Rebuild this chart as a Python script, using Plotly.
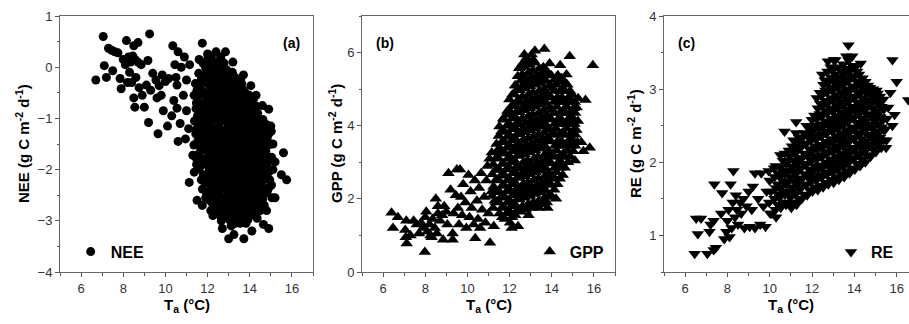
import plotly.graph_objects as go

# ---------------- data ----------------
nee_pairs = [
    (6.7,-0.25),(7.05,0.6),(7.1,0.03),(7.2,-0.2),(7.3,0.37),(7.45,0.33),(7.6,0.3),(7.75,0.28),(7.5,-0.07),
    (7.85,-0.22),(7.9,-0.42),(8.15,0.52),(8.0,0.15),(8.1,0.05),(8.25,0.2),(8.35,0.1),(8.45,0.22),(8.55,0.15),
    (8.7,0.1),(8.85,0.05),(8.5,0.42),(8.7,0.48),(8.3,-0.1),(8.4,-0.3),(8.6,-0.2),(8.2,-0.3),(8.5,-0.6),
    (8.55,-0.78),(8.75,-0.4),(8.9,-0.55),(9.0,-0.78),(9.25,0.65),(9.17,0.13),(9.2,-1.08),(9.65,-1.3),
    (9.1,-0.35),(9.4,-0.12),(9.55,-0.25),(9.7,-0.36),(9.85,-0.15),(10.0,-0.28),(10.15,-0.22),(9.3,-0.45),
    (9.6,-0.6),(9.9,-0.85),(9.8,-0.55),(10.1,-1.15),(10.35,0.42),(10.6,0.3),(10.9,0.2),(10.45,0.05),
    (10.5,-0.2),(10.55,-0.35),(10.4,-0.65),(10.55,-0.8),(10.6,-1.45),(10.3,-0.95),(10.7,-1.1),(10.85,-0.55),
    (11.0,-0.85),(11.1,-1.2),(10.95,-1.4),(10.75,0.0),(11.0,-0.25),(11.15,0.05),(11.13,-2.25),(11.5,-2.6),
    (11.75,-2.7),(11.37,-2.05),(11.3,-1.72),(11.75,0.47),(11.6,0.15),(12.25,-2.9),(12.15,-2.8),(12.65,-3.0),
    (12.7,-3.15),(13.0,-3.35),(13.25,-3.27),(13.72,-3.35),(14.1,-3.2),(14.65,-3.07),(14.9,-3.15),(14.5,-2.8),
    (14.8,-2.8),(15.2,-2.55),(15.1,-2.0),(15.5,-2.1),(15.75,-2.2),(15.6,-1.67),(14.9,-0.82),(15.0,-1.15),
    (14.05,-0.36),(13.57,-0.23),(13.2,0.1),(12.85,0.3),(12.4,0.3),(12.0,0.26),(13.55,-3.05),(14.35,-2.95),
    (15.05,-2.55),(14.95,-2.2),(15.2,-1.85),(15.1,-1.5),(14.6,-0.75),(14.3,-0.55),(13.7,-0.15),
    (11.42,-0.32),(11.36,-0.55),(11.45,-0.81),(11.38,-1.05),(11.44,-1.3),(11.35,-1.52),(11.47,-1.78),
    (11.58,-0.12),(11.63,-0.4),(11.55,-0.66),(11.62,-0.93),(11.57,-1.18),(11.64,-1.44),(11.56,-1.7),(11.61,-1.98),
    (11.78,0.08),(11.84,-0.2),(11.76,-0.47),(11.82,-0.71),(11.79,-0.98),(11.85,-1.25),(11.77,-1.51),(11.83,-1.79),
    (11.8,-2.1),(11.75,-2.38),
    (12.02,0.18),(11.97,-0.08),(12.05,-0.34),(11.99,-0.6),(12.04,-0.86),(11.96,-1.12),(12.03,-1.37),(11.98,-1.63),
    (12.06,-1.9),(12.0,-2.16),(11.95,-2.45),
    (12.18,0.22),(12.23,-0.04),(12.16,-0.3),(12.24,-0.55),(12.19,-0.82),(12.15,-1.07),(12.22,-1.33),(12.17,-1.6),
    (12.25,-1.85),(12.2,-2.12),(12.16,-2.38),(12.23,-2.66),
    (12.38,0.1),(12.43,-0.17),(12.36,-0.43),(12.42,-0.69),(12.39,-0.95),(12.45,-1.2),(12.37,-1.46),(12.41,-1.72),
    (12.44,-1.98),(12.36,-2.25),(12.42,-2.5),(12.39,-2.78),
    (12.62,0.2),(12.57,-0.06),(12.64,-0.32),(12.58,-0.58),(12.63,-0.84),(12.56,-1.1),(12.61,-1.36),(12.65,-1.62),
    (12.59,-1.88),(12.63,-2.14),(12.57,-2.4),(12.62,-2.66),(12.6,-2.9),
    (12.78,0.08),(12.83,-0.18),(12.76,-0.44),(12.82,-0.7),(12.79,-0.97),(12.84,-1.23),(12.77,-1.49),(12.81,-1.75),
    (12.85,-2.01),(12.78,-2.27),(12.82,-2.53),(12.76,-2.8),
    (12.98,-0.12),(13.04,-0.38),(12.97,-0.64),(13.03,-0.9),(12.99,-1.16),(13.05,-1.42),(12.96,-1.68),(13.02,-1.94),
    (12.98,-2.2),(13.04,-2.46),(12.97,-2.72),(13.03,-2.98),
    (13.18,-0.1),(13.23,-0.36),(13.16,-0.62),(13.22,-0.88),(13.19,-1.14),(13.24,-1.4),(13.17,-1.66),(13.21,-1.92),
    (13.25,-2.18),(13.18,-2.44),(13.22,-2.7),(13.16,-2.96),
    (13.38,-0.28),(13.43,-0.54),(13.36,-0.8),(13.42,-1.06),(13.39,-1.32),(13.44,-1.58),(13.37,-1.84),(13.41,-2.1),
    (13.45,-2.36),(13.38,-2.62),(13.42,-2.88),
    (13.62,-0.32),(13.57,-0.58),(13.64,-0.84),(13.58,-1.1),(13.63,-1.36),(13.56,-1.62),(13.61,-1.88),(13.65,-2.14),
    (13.59,-2.4),(13.63,-2.66),(13.57,-2.92),
    (13.78,-0.5),(13.83,-0.76),(13.76,-1.02),(13.82,-1.28),(13.79,-1.54),(13.84,-1.8),(13.77,-2.06),(13.81,-2.32),
    (13.85,-2.58),(13.78,-2.84),(13.82,-3.05),
    (13.98,-0.55),(14.04,-0.81),(13.97,-1.07),(14.03,-1.33),(13.99,-1.59),(14.05,-1.85),(13.96,-2.11),(14.02,-2.37),
    (13.98,-2.63),(14.04,-2.89),
    (14.18,-0.62),(14.23,-0.88),(14.16,-1.14),(14.22,-1.4),(14.19,-1.66),(14.24,-1.92),(14.17,-2.18),(14.21,-2.44),
    (14.25,-2.7),
    (14.38,-0.9),(14.43,-1.16),(14.36,-1.42),(14.42,-1.68),(14.39,-1.94),(14.44,-2.2),(14.37,-2.46),(14.41,-2.72),
    (14.62,-1.02),(14.57,-1.28),(14.64,-1.54),(14.58,-1.8),(14.63,-2.06),(14.56,-2.32),(14.61,-2.58),
    (14.78,-1.12),(14.83,-1.38),(14.76,-1.64),(14.82,-1.9),(14.79,-2.16),(14.84,-2.42),
    (15.02,-1.25),(14.97,-1.5),(15.04,-1.76),(14.98,-2.02),(15.03,-2.3),
]
nee_pairs_fill = [
    (11.5,-0.45),(11.47,-0.7),(11.52,-0.95),(11.49,-1.2),(11.53,-1.45),(11.48,-1.9),
    (11.7,-0.25),(11.68,-0.52),(11.72,-0.8),(11.69,-1.05),(11.73,-1.32),(11.67,-1.58),(11.71,-1.85),(11.7,-2.2),
    (11.9,0.0),(11.92,-0.3),(11.88,-0.55),(11.91,-0.82),(11.87,-1.1),(11.93,-1.36),(11.89,-1.62),(11.92,-1.9),
    (11.88,-2.25),(11.91,-2.55),
    (12.1,0.05),(12.08,-0.2),(12.12,-0.46),(12.09,-0.72),(12.13,-0.98),(12.07,-1.24),(12.11,-1.5),(12.1,-1.76),
    (12.08,-2.02),(12.12,-2.3),(12.09,-2.6),
    (12.3,-0.15),(12.32,-0.42),(12.28,-0.68),(12.31,-0.94),(12.27,-1.2),(12.33,-1.46),(12.29,-1.72),(12.32,-1.98),
    (12.28,-2.24),(12.31,-2.5),(12.3,-2.75),
    (12.5,0.0),(12.48,-0.3),(12.52,-0.56),(12.49,-0.82),(12.53,-1.08),(12.47,-1.34),(12.51,-1.6),(12.5,-1.86),
    (12.48,-2.12),(12.52,-2.38),(12.49,-2.64),(12.51,-2.85),
    (12.7,0.1),(12.72,-0.2),(12.68,-0.45),(12.71,-0.71),(12.67,-0.97),(12.73,-1.23),(12.69,-1.49),(12.72,-1.75),
    (12.68,-2.01),(12.71,-2.27),(12.69,-2.53),(12.72,-2.78),
    (12.9,-0.05),(12.88,-0.3),(12.92,-0.56),(12.89,-0.82),(12.93,-1.08),(12.87,-1.34),(12.91,-1.6),(12.9,-1.86),
    (12.88,-2.12),(12.92,-2.38),(12.89,-2.64),(12.91,-2.9),
    (13.1,-0.25),(13.12,-0.5),(13.08,-0.76),(13.11,-1.02),(13.07,-1.28),(13.13,-1.54),(13.09,-1.8),(13.12,-2.06),
    (13.08,-2.32),(13.11,-2.58),(13.09,-2.84),(13.12,-3.1),
    (13.3,-0.2),(13.28,-0.48),(13.32,-0.74),(13.29,-1.0),(13.33,-1.26),(13.27,-1.52),(13.31,-1.78),(13.3,-2.04),
    (13.28,-2.3),(13.32,-2.56),(13.29,-2.82),(13.31,-3.05),
    (13.5,-0.4),(13.52,-0.68),(13.48,-0.94),(13.51,-1.2),(13.47,-1.46),(13.53,-1.72),(13.49,-1.98),(13.52,-2.24),
    (13.48,-2.5),(13.51,-2.76),(13.5,-3.0),
    (13.7,-0.45),(13.68,-0.7),(13.72,-0.96),(13.69,-1.22),(13.73,-1.48),(13.67,-1.74),(13.71,-2.0),(13.7,-2.26),
    (13.68,-2.52),(13.72,-2.78),
    (13.9,-0.65),(13.92,-0.92),(13.88,-1.18),(13.91,-1.44),(13.87,-1.7),(13.93,-1.96),(13.89,-2.22),(13.92,-2.48),
    (13.88,-2.74),(13.91,-2.98),
    (14.1,-0.7),(14.08,-0.95),(14.12,-1.2),(14.09,-1.46),(14.13,-1.72),(14.07,-1.98),(14.11,-2.24),(14.1,-2.5),
    (14.08,-2.76),
    (14.3,-0.76),(14.32,-1.02),(14.28,-1.28),(14.31,-1.54),(14.27,-1.8),(14.33,-2.06),(14.29,-2.32),(14.32,-2.58),
    (14.3,-2.84),
    (14.5,-1.05),(14.48,-1.3),(14.52,-1.56),(14.49,-1.82),(14.53,-2.08),(14.47,-2.34),(14.51,-2.6),
    (14.7,-1.15),(14.72,-1.42),(14.68,-1.68),(14.71,-1.94),(14.67,-2.2),(14.73,-2.46),(14.69,-2.7),
    (14.9,-1.3),(14.88,-1.52),(14.92,-1.78),(14.89,-2.05),(14.91,-2.35),
]

gpp_pairs = [
    (6.4,1.62),(6.7,1.5),(6.47,1.2),(7.1,1.4),(7.45,1.4),(7.05,1.15),(7.08,0.95),(7.12,0.78),(7.3,1.0),
    (7.7,1.05),(7.98,0.55),(7.6,1.3),(7.8,1.35),(7.9,1.2),(8.0,1.5),(8.1,1.1),(8.2,1.3),(8.3,0.95),(8.35,1.45),
    (8.45,1.2),(8.55,1.05),(8.6,1.6),(8.05,1.65),(8.25,1.0),(8.5,2.0),(8.6,1.8),(8.7,1.4),(8.8,1.55),(8.85,0.88),
    (8.9,1.8),(9.0,1.65),(9.05,1.3),(9.1,2.7),(9.2,2.25),(9.3,0.88),(9.3,1.05),(9.35,1.6),(9.45,2.1),(9.5,2.8),
    (9.65,2.8),(9.55,1.75),(9.6,1.3),(9.7,2.05),(9.75,1.55),(9.8,2.4),(9.9,1.9),(9.95,1.2),(10.05,2.65),
    (10.1,1.5),(10.15,2.2),(10.2,1.75),(10.3,1.3),(10.37,0.92),(10.35,2.5),(10.45,1.95),(10.5,1.45),(10.55,2.3),
    (10.6,1.2),(10.65,2.7),(10.7,1.7),(10.8,2.05),(10.85,1.35),(10.9,2.5),(10.95,2.9),(11.0,1.6),(11.07,0.8),
    (11.05,3.1),(11.15,2.2),(11.25,1.25),(11.3,1.95),(11.4,3.3),(11.65,1.5),(12.1,1.2),(12.4,1.25),(12.7,5.95),
    (13.2,6.05),(13.65,6.1),(14.85,5.9),(15.95,5.65),(15.25,4.75),(15.8,3.4),(15.1,3.05),(15.6,4.7),(15.4,3.55),
    (15.5,3.3),(13.8,1.75),(14.2,2.0),(13.4,1.75),(12.9,1.55),(11.9,4.4),(11.7,4.2),(12.3,5.1),(12.5,5.6),
    (14.7,5.4),(14.4,5.65),(13.9,5.7),
    (11.22,1.75),(11.17,2.08),(11.24,2.33),(11.18,2.67),(11.23,2.94),(11.16,3.27),
    (11.52,1.6),(11.47,1.93),(11.54,2.18),(11.48,2.52),(11.53,2.79),(11.46,3.12),(11.55,3.38),(11.49,3.72),(11.52,3.98),
    (11.77,1.45),(11.72,1.78),(11.79,2.03),(11.73,2.37),(11.78,2.63),(11.71,2.97),(11.8,3.23),(11.74,3.57),
    (11.77,3.83),(11.72,4.16),
    (12.02,1.35),(11.97,1.68),(12.04,1.93),(11.98,2.27),(12.03,2.53),(11.96,2.87),(12.05,3.13),(11.99,3.47),
    (12.02,3.73),(11.97,4.07),(12.04,4.38),(11.99,4.72),
    (12.27,1.55),(12.22,1.88),(12.29,2.13),(12.23,2.47),(12.28,2.73),(12.21,3.07),(12.3,3.33),(12.24,3.67),
    (12.27,3.93),(12.22,4.27),(12.29,4.53),(12.23,4.87),(12.26,5.1),
    (12.52,1.65),(12.47,1.98),(12.54,2.23),(12.48,2.57),(12.53,2.83),(12.46,3.17),(12.55,3.43),(12.49,3.77),
    (12.52,4.03),(12.47,4.37),(12.54,4.63),(12.48,4.97),(12.53,5.23),(12.46,5.57),
    (12.77,1.7),(12.72,2.03),(12.79,2.28),(12.73,2.62),(12.78,2.88),(12.71,3.22),(12.8,3.48),(12.74,3.82),
    (12.77,4.08),(12.72,4.42),(12.79,4.68),(12.73,5.02),(12.78,5.28),(12.71,5.62),(12.8,5.85),
    (13.02,1.75),(12.97,2.08),(13.04,2.33),(12.98,2.67),(13.03,2.93),(12.96,3.27),(13.05,3.53),(12.99,3.87),
    (13.02,4.13),(12.97,4.47),(13.04,4.73),(12.98,5.07),(13.03,5.33),(12.96,5.67),(13.05,5.95),
    (13.27,1.8),(13.22,2.13),(13.29,2.38),(13.23,2.72),(13.28,2.98),(13.21,3.32),(13.3,3.58),(13.24,3.92),
    (13.27,4.18),(13.22,4.52),(13.29,4.78),(13.23,5.12),(13.28,5.38),(13.21,5.72),
    (13.52,1.85),(13.47,2.18),(13.54,2.43),(13.48,2.77),(13.53,3.03),(13.46,3.37),(13.55,3.63),(13.49,3.97),
    (13.52,4.23),(13.47,4.57),(13.54,4.83),(13.48,5.17),(13.53,5.43),
    (13.77,1.9),(13.72,2.23),(13.79,2.48),(13.73,2.82),(13.78,3.08),(13.71,3.42),(13.8,3.68),(13.74,4.02),
    (13.77,4.28),(13.72,4.62),(13.79,4.88),(13.73,5.22),(13.78,5.48),
    (14.02,2.05),(13.97,2.38),(14.04,2.63),(13.98,2.97),(14.03,3.23),(13.96,3.57),(14.05,3.83),(13.99,4.17),
    (14.02,4.43),(13.97,4.77),(14.04,5.03),(13.98,5.37),
    (14.27,2.4),(14.22,2.73),(14.29,2.98),(14.23,3.32),(14.28,3.58),(14.21,3.92),(14.3,4.18),(14.24,4.52),
    (14.27,4.78),(14.22,5.12),(14.29,5.38),
    (14.52,2.65),(14.47,2.98),(14.54,3.23),(14.48,3.57),(14.53,3.83),(14.46,4.17),(14.55,4.43),(14.49,4.77),
    (14.52,5.03),(14.47,5.3),
    (14.77,3.0),(14.72,3.33),(14.79,3.58),(14.73,3.92),(14.78,4.18),(14.71,4.52),(14.8,4.78),(14.74,5.12),
    (15.02,3.3),(14.97,3.63),(15.04,3.88),(14.98,4.22),(15.03,4.48),(14.96,4.85),
    (15.22,3.55),(15.17,3.88),(15.24,4.13),(15.18,4.5),
]
gpp_pairs_fill = [
    (11.35,1.9),(11.37,2.2),(11.33,2.5),(11.36,2.8),(11.34,3.1),(11.38,3.5),
    (11.62,1.75),(11.6,2.05),(11.64,2.35),(11.61,2.65),(11.65,2.95),(11.59,3.25),(11.63,3.55),(11.62,3.85),
    (11.88,1.6),(11.9,1.9),(11.86,2.2),(11.89,2.5),(11.85,2.8),(11.91,3.1),(11.87,3.4),(11.9,3.7),(11.88,4.0),(11.89,4.3),
    (12.12,1.5),(12.1,1.8),(12.14,2.1),(12.11,2.4),(12.15,2.7),(12.09,3.0),(12.13,3.3),(12.12,3.6),(12.1,3.9),
    (12.14,4.2),(12.11,4.55),(12.13,4.85),
    (12.38,1.7),(12.4,2.0),(12.36,2.3),(12.39,2.6),(12.35,2.9),(12.41,3.2),(12.37,3.5),(12.4,3.8),(12.38,4.1),
    (12.36,4.4),(12.4,4.7),(12.37,5.0),(12.39,5.35),
    (12.62,1.8),(12.6,2.1),(12.64,2.4),(12.61,2.7),(12.65,3.0),(12.59,3.3),(12.63,3.6),(12.62,3.9),(12.6,4.2),
    (12.64,4.5),(12.61,4.8),(12.63,5.1),(12.6,5.4),(12.62,5.7),
    (12.88,1.85),(12.9,2.15),(12.86,2.45),(12.89,2.75),(12.85,3.05),(12.91,3.35),(12.87,3.65),(12.9,3.95),
    (12.88,4.25),(12.86,4.55),(12.9,4.85),(12.87,5.15),(12.89,5.45),(12.88,5.75),
    (13.12,1.9),(13.1,2.2),(13.14,2.5),(13.11,2.8),(13.15,3.1),(13.09,3.4),(13.13,3.7),(13.12,4.0),(13.1,4.3),
    (13.14,4.6),(13.11,4.9),(13.13,5.2),(13.1,5.5),(13.12,5.8),
    (13.38,1.95),(13.4,2.25),(13.36,2.55),(13.39,2.85),(13.35,3.15),(13.41,3.45),(13.37,3.75),(13.4,4.05),
    (13.38,4.35),(13.36,4.65),(13.4,4.95),(13.37,5.25),(13.39,5.55),
    (13.62,2.0),(13.6,2.3),(13.64,2.6),(13.61,2.9),(13.65,3.2),(13.59,3.5),(13.63,3.8),(13.62,4.1),(13.6,4.4),
    (13.64,4.7),(13.61,5.0),(13.63,5.3),(13.6,5.6),
    (13.88,2.1),(13.9,2.4),(13.86,2.7),(13.89,3.0),(13.85,3.3),(13.91,3.6),(13.87,3.9),(13.9,4.2),(13.88,4.5),
    (13.86,4.8),(13.9,5.1),(13.87,5.4),
    (14.12,2.25),(14.1,2.55),(14.14,2.85),(14.11,3.15),(14.15,3.45),(14.09,3.75),(14.13,4.05),(14.12,4.35),
    (14.1,4.65),(14.14,4.95),(14.11,5.25),
    (14.38,2.55),(14.4,2.85),(14.36,3.15),(14.39,3.45),(14.35,3.75),(14.41,4.05),(14.37,4.35),(14.4,4.65),
    (14.38,4.95),(14.36,5.25),
    (14.62,2.85),(14.6,3.15),(14.64,3.45),(14.61,3.75),(14.65,4.05),(14.59,4.35),(14.63,4.65),(14.62,4.95),(14.6,5.2),
    (14.88,3.15),(14.9,3.45),(14.86,3.75),(14.89,4.05),(14.85,4.35),(14.91,4.65),(14.87,4.95),
    (15.1,3.45),(15.12,3.75),(15.08,4.05),(15.11,4.35),(15.09,4.65),
]

re_pairs = [
    (6.52,1.23),(6.75,1.23),(6.6,1.02),(6.45,0.75),(7.05,0.75),(7.35,0.8),(7.45,0.83),(7.2,1.15),(7.35,1.2),
    (7.15,1.05),(7.38,1.7),(7.75,1.58),(8.15,1.7),(8.28,1.88),(7.7,1.3),(7.85,0.95),(7.95,1.05),(8.0,1.2),
    (8.05,1.35),(8.1,0.98),(8.2,1.1),(8.25,1.45),(8.35,1.25),(8.4,1.55),(8.45,1.35),(8.5,1.15),(8.6,1.45),
    (8.65,1.3),(8.75,1.5),(8.8,1.1),(8.9,1.4),(9.0,1.6),(9.05,1.12),(9.15,1.35),(9.2,1.67),(9.3,1.85),(9.3,1.1),
    (9.45,1.5),(9.55,1.15),(9.6,1.85),(9.7,1.4),(9.8,1.12),(9.85,1.6),(9.95,1.88),(10.1,1.3),(10.2,1.92),
    (10.3,1.25),(10.7,2.42),(11.25,2.55),(10.5,2.1),(15.8,3.4),(16.0,3.1),(16.55,2.85),(15.8,2.5),(15.9,2.65),
    (15.5,2.2),(15.7,2.95),(15.6,2.75),(13.72,3.6),(13.9,3.45),(14.3,3.35),(12.75,3.38),(13.1,3.4),(12.95,3.15),
    (10.02,1.3),(9.97,1.45),(10.05,1.6),(9.99,1.75),
    (10.27,1.35),(10.22,1.5),(10.29,1.65),(10.23,1.8),(10.28,1.95),
    (10.52,1.38),(10.47,1.52),(10.54,1.66),(10.48,1.8),(10.53,1.94),
    (10.77,1.42),(10.72,1.56),(10.79,1.7),(10.73,1.84),(10.78,1.98),(10.71,2.12),
    (11.02,1.38),(10.97,1.52),(11.04,1.66),(10.98,1.8),(11.03,1.94),(10.96,2.08),(11.05,2.22),
    (11.27,1.42),(11.22,1.56),(11.29,1.7),(11.23,1.84),(11.28,1.98),(11.21,2.12),(11.3,2.26),(11.24,2.4),
    (11.52,1.5),(11.47,1.64),(11.54,1.78),(11.48,1.92),(11.53,2.06),(11.46,2.2),(11.55,2.34),
    (11.77,1.55),(11.72,1.69),(11.79,1.83),(11.73,1.97),(11.78,2.11),(11.71,2.25),(11.8,2.39),(11.74,2.5),
    (12.02,1.6),(11.97,1.74),(12.04,1.88),(11.98,2.02),(12.03,2.16),(11.96,2.3),(12.05,2.44),(11.99,2.58),
    (12.27,1.62),(12.22,1.76),(12.29,1.9),(12.23,2.04),(12.28,2.18),(12.21,2.32),(12.3,2.46),(12.24,2.6),
    (12.27,2.74),(12.22,2.88),
    (12.52,1.66),(12.47,1.8),(12.54,1.94),(12.48,2.08),(12.53,2.22),(12.46,2.36),(12.55,2.5),(12.49,2.64),
    (12.52,2.78),(12.47,2.92),(12.54,3.06),(12.48,3.2),
    (12.77,1.7),(12.72,1.84),(12.79,1.98),(12.73,2.12),(12.78,2.26),(12.71,2.4),(12.8,2.54),(12.74,2.68),
    (12.77,2.82),(12.72,2.96),(12.79,3.1),(12.73,3.24),
    (13.02,1.72),(12.97,1.86),(13.04,2.0),(12.98,2.14),(13.03,2.28),(12.96,2.42),(13.05,2.56),(12.99,2.7),
    (13.02,2.84),(12.97,2.98),(13.04,3.12),(12.98,3.26),(13.03,3.4),
    (13.27,1.76),(13.22,1.9),(13.29,2.04),(13.23,2.18),(13.28,2.32),(13.21,2.46),(13.3,2.6),(13.24,2.74),
    (13.27,2.88),(13.22,3.02),(13.29,3.16),(13.23,3.3),
    (13.52,1.8),(13.47,1.94),(13.54,2.08),(13.48,2.22),(13.53,2.36),(13.46,2.5),(13.55,2.64),(13.49,2.78),
    (13.52,2.92),(13.47,3.06),(13.54,3.2),(13.48,3.34),
    (13.77,1.85),(13.72,1.99),(13.79,2.13),(13.73,2.27),(13.78,2.41),(13.71,2.55),(13.8,2.69),(13.74,2.83),
    (13.77,2.97),(13.72,3.11),(13.79,3.25),(13.73,3.39),
    (14.02,1.9),(13.97,2.04),(14.04,2.18),(13.98,2.32),(14.03,2.46),(13.96,2.6),(14.05,2.74),(13.99,2.88),
    (14.02,3.02),(13.97,3.16),(14.04,3.3),
    (14.27,1.95),(14.22,2.09),(14.29,2.23),(14.23,2.37),(14.28,2.51),(14.21,2.65),(14.3,2.79),(14.24,2.93),
    (14.27,3.07),(14.22,3.2),
    (14.52,2.0),(14.47,2.14),(14.54,2.28),(14.48,2.42),(14.53,2.56),(14.46,2.7),(14.55,2.84),(14.49,2.98),(14.52,3.1),
    (14.77,2.08),(14.72,2.22),(14.79,2.36),(14.73,2.5),(14.78,2.64),(14.71,2.78),(14.8,2.92),(14.74,3.02),
    (15.02,2.14),(14.97,2.28),(15.04,2.42),(14.98,2.56),(15.03,2.7),(14.96,2.84),(15.05,2.98),
    (15.27,2.2),(15.22,2.34),(15.29,2.48),(15.23,2.62),(15.28,2.76),(15.21,2.9),
    (15.52,2.3),(15.47,2.45),(15.54,2.6),
]
re_pairs_fill = [
    (10.38,1.42),(10.4,1.56),(10.36,1.7),(10.39,1.85),
    (10.62,1.45),(10.6,1.6),(10.64,1.74),(10.61,1.88),(10.63,2.02),
    (10.88,1.45),(10.9,1.6),(10.86,1.74),(10.89,1.88),(10.87,2.02),(10.9,2.16),
    (11.12,1.45),(11.1,1.6),(11.14,1.74),(11.11,1.88),(11.13,2.02),(11.1,2.16),(11.12,2.3),
    (11.38,1.5),(11.4,1.64),(11.36,1.78),(11.39,1.92),(11.37,2.06),(11.4,2.2),(11.38,2.34),
    (11.62,1.56),(11.6,1.7),(11.64,1.84),(11.61,1.98),(11.63,2.12),(11.6,2.26),(11.62,2.4),
    (11.88,1.62),(11.9,1.76),(11.86,1.9),(11.89,2.04),(11.87,2.18),(11.9,2.32),(11.88,2.46),
    (12.12,1.66),(12.1,1.8),(12.14,1.94),(12.11,2.08),(12.13,2.22),(12.1,2.36),(12.12,2.5),(12.11,2.64),
    (12.38,1.68),(12.4,1.82),(12.36,1.96),(12.39,2.1),(12.37,2.24),(12.4,2.38),(12.38,2.52),(12.36,2.66),
    (12.39,2.8),(12.37,2.95),
    (12.62,1.72),(12.6,1.86),(12.64,2.0),(12.61,2.14),(12.63,2.28),(12.6,2.42),(12.62,2.56),(12.64,2.7),
    (12.61,2.84),(12.63,2.98),(12.6,3.12),
    (12.88,1.76),(12.9,1.9),(12.86,2.04),(12.89,2.18),(12.87,2.32),(12.9,2.46),(12.88,2.6),(12.86,2.74),
    (12.89,2.88),(12.87,3.02),(12.9,3.16),(12.88,3.3),
    (13.12,1.8),(13.1,1.94),(13.14,2.08),(13.11,2.22),(13.13,2.36),(13.1,2.5),(13.12,2.64),(13.14,2.78),
    (13.11,2.92),(13.13,3.06),(13.1,3.2),
    (13.38,1.84),(13.4,1.98),(13.36,2.12),(13.39,2.26),(13.37,2.4),(13.4,2.54),(13.38,2.68),(13.36,2.82),
    (13.39,2.96),(13.37,3.1),(13.4,3.24),
    (13.62,1.88),(13.6,2.02),(13.64,2.16),(13.61,2.3),(13.63,2.44),(13.6,2.58),(13.62,2.72),(13.64,2.86),
    (13.61,3.0),(13.63,3.14),(13.6,3.28),(13.62,3.45),
    (13.88,1.92),(13.9,2.06),(13.86,2.2),(13.89,2.34),(13.87,2.48),(13.9,2.62),(13.88,2.76),(13.86,2.9),
    (13.89,3.04),(13.87,3.18),(13.9,3.32),
    (14.12,1.98),(14.1,2.12),(14.14,2.26),(14.11,2.4),(14.13,2.54),(14.1,2.68),(14.12,2.82),(14.14,2.96),
    (14.11,3.1),(14.13,3.24),
    (14.38,2.04),(14.4,2.18),(14.36,2.32),(14.39,2.46),(14.37,2.6),(14.4,2.74),(14.38,2.88),(14.36,3.02),(14.39,3.15),
    (14.62,2.1),(14.6,2.24),(14.64,2.38),(14.61,2.52),(14.63,2.66),(14.6,2.8),(14.62,2.94),(14.64,3.05),
    (14.88,2.18),(14.9,2.32),(14.86,2.46),(14.89,2.6),(14.87,2.74),(14.9,2.88),(14.88,3.0),
    (15.12,2.24),(15.1,2.38),(15.14,2.52),(15.11,2.66),(15.13,2.8),(15.1,2.94),
    (15.38,2.3),(15.4,2.44),(15.36,2.58),(15.39,2.72),(15.37,2.86),
]

all_nee = nee_pairs + nee_pairs_fill
all_gpp = gpp_pairs + gpp_pairs_fill
all_re = re_pairs + re_pairs_fill
ta_nee = [p[0] for p in all_nee]
nee = [p[1] for p in all_nee]
ta_gpp = [p[0] for p in all_gpp]
gpp = [p[1] for p in all_gpp]
ta_re = [p[0] for p in all_re]
re_vals = [p[1] for p in all_re]

x_ticks = [6, 8, 10, 12, 14, 16]
ytitles = ["NEE (g C m<sup>-2</sup> d<sup>-1</sup>)",
           "GPP (g C m<sup>-2</sup> d<sup>-1</sup>)",
           "RE (g C m<sup>-2</sup> d<sup>-1</sup>)"]

# ---------------- figure ----------------
FONT = "Liberation Sans, Arial, sans-serif"
W, H = 909, 324
L, R, T, B = 60, 0, 16, 52
pw, ph = W - L - R, H - T - B

def px2x(px):
    return (px - L) / pw

def py2y(py):
    return (H - B - py) / ph

fig = go.Figure()
fig.add_trace(go.Scatter(x=ta_nee, y=nee, mode="markers", name="NEE",
                         marker=dict(symbol="circle", size=9, color="black"),
                         xaxis="x", yaxis="y", legend="legend"))
fig.add_trace(go.Scatter(x=ta_gpp, y=gpp, mode="markers", name="GPP",
                         marker=dict(symbol="triangle-up", size=11, color="black"),
                         xaxis="x2", yaxis="y2", legend="legend2"))
fig.add_trace(go.Scatter(x=ta_re, y=re_vals, mode="markers", name="RE",
                         marker=dict(symbol="triangle-down", size=11, color="black"),
                         xaxis="x3", yaxis="y3", legend="legend3"))

domains = [(px2x(60), px2x(313)), (px2x(362), px2x(615)), (px2x(664), 1.0)]
xranges = [[5, 17], [5, 17], [5, 5 + (909 - 664) / 21.15]]
yranges = [[-4, 1], [0, 7], [0.5, 4]]
ydticks = [1, 2, 1]
yminor = [0.5, 1, 0.5]

axis_common = dict(showgrid=False, zeroline=False, showline=True, linecolor="#666666", linewidth=1,
                   ticks="outside", ticklen=4, tickwidth=1, tickcolor="#555555",
                   tickfont=dict(family=FONT, size=13, color="#333333"))
layout = dict(width=W, height=H, margin=dict(l=L, r=R, t=T, b=B, pad=0, autoexpand=False),
              plot_bgcolor="white", paper_bgcolor="white", showlegend=True,
              font=dict(family=FONT))
for i in range(3):
    sx = "" if i == 0 else str(i + 1)
    layout["xaxis" + sx] = dict(axis_common, domain=list(domains[i]), range=xranges[i],
                                tickvals=x_ticks, mirror=True, anchor="y" + sx,
                                minor=dict(dtick=1, tick0=5, ticks="outside", ticklen=2.5,
                                           tickcolor="#555555", showgrid=False))
    layout["yaxis" + sx] = dict(axis_common, domain=[0, 1], range=yranges[i], dtick=ydticks[i],
                                mirror=(i < 2), anchor="x" + sx,
                                minor=dict(dtick=yminor[i], ticks="outside", ticklen=2.5,
                                           tickcolor="#555555", showgrid=False))

legfont = dict(family=FONT, size=16, color="black", weight="bold")
for key, (lx, ly) in zip(["legend", "legend2", "legend3"], [(70.7, 251.7), (529.7, 251.7), (831, 252)]):
    layout[key] = dict(x=px2x(lx), y=py2y(ly), xref="paper", yref="paper",
                       xanchor="left", yanchor="middle", bgcolor="rgba(0,0,0,0)", font=legfont)
fig.update_layout(**layout)

ann = []
for cx in [(60 + 313) / 2, (362 + 615) / 2, (664 + 918) / 2]:
    ann.append(dict(text="<b>T<sub>a</sub> (°C)</b>", x=px2x(cx), y=py2y(305), xref="paper", yref="paper",
                    showarrow=False, xanchor="center", yanchor="middle",
                    font=dict(family=FONT, size=15, color="black")))
for i, px in enumerate([22, 335, 634]):
    ann.append(dict(text="<b>" + ytitles[i] + "</b>", x=px2x(px), y=0.5, xref="paper", yref="paper",
                    showarrow=False, textangle=-90, xanchor="center", yanchor="middle",
                    font=dict(family=FONT, size=15, color="black")))
ann.append(dict(text="<b>(a)</b>", x=px2x(302), y=py2y(43), xref="paper", yref="paper", showarrow=False,
                xanchor="right", yanchor="middle", font=dict(family=FONT, size=14, color="black")))
ann.append(dict(text="<b>(b)</b>", x=px2x(374), y=py2y(43), xref="paper", yref="paper", showarrow=False,
                xanchor="left", yanchor="middle", font=dict(family=FONT, size=14, color="black")))
ann.append(dict(text="<b>(c)</b>", x=px2x(676), y=py2y(43), xref="paper", yref="paper", showarrow=False,
                xanchor="left", yanchor="middle", font=dict(family=FONT, size=14, color="black")))
fig.update_layout(annotations=ann)

fig.write_html("out.html", config={"displayModeBar": False},
               post_script="document.body.style.margin='0px';")
